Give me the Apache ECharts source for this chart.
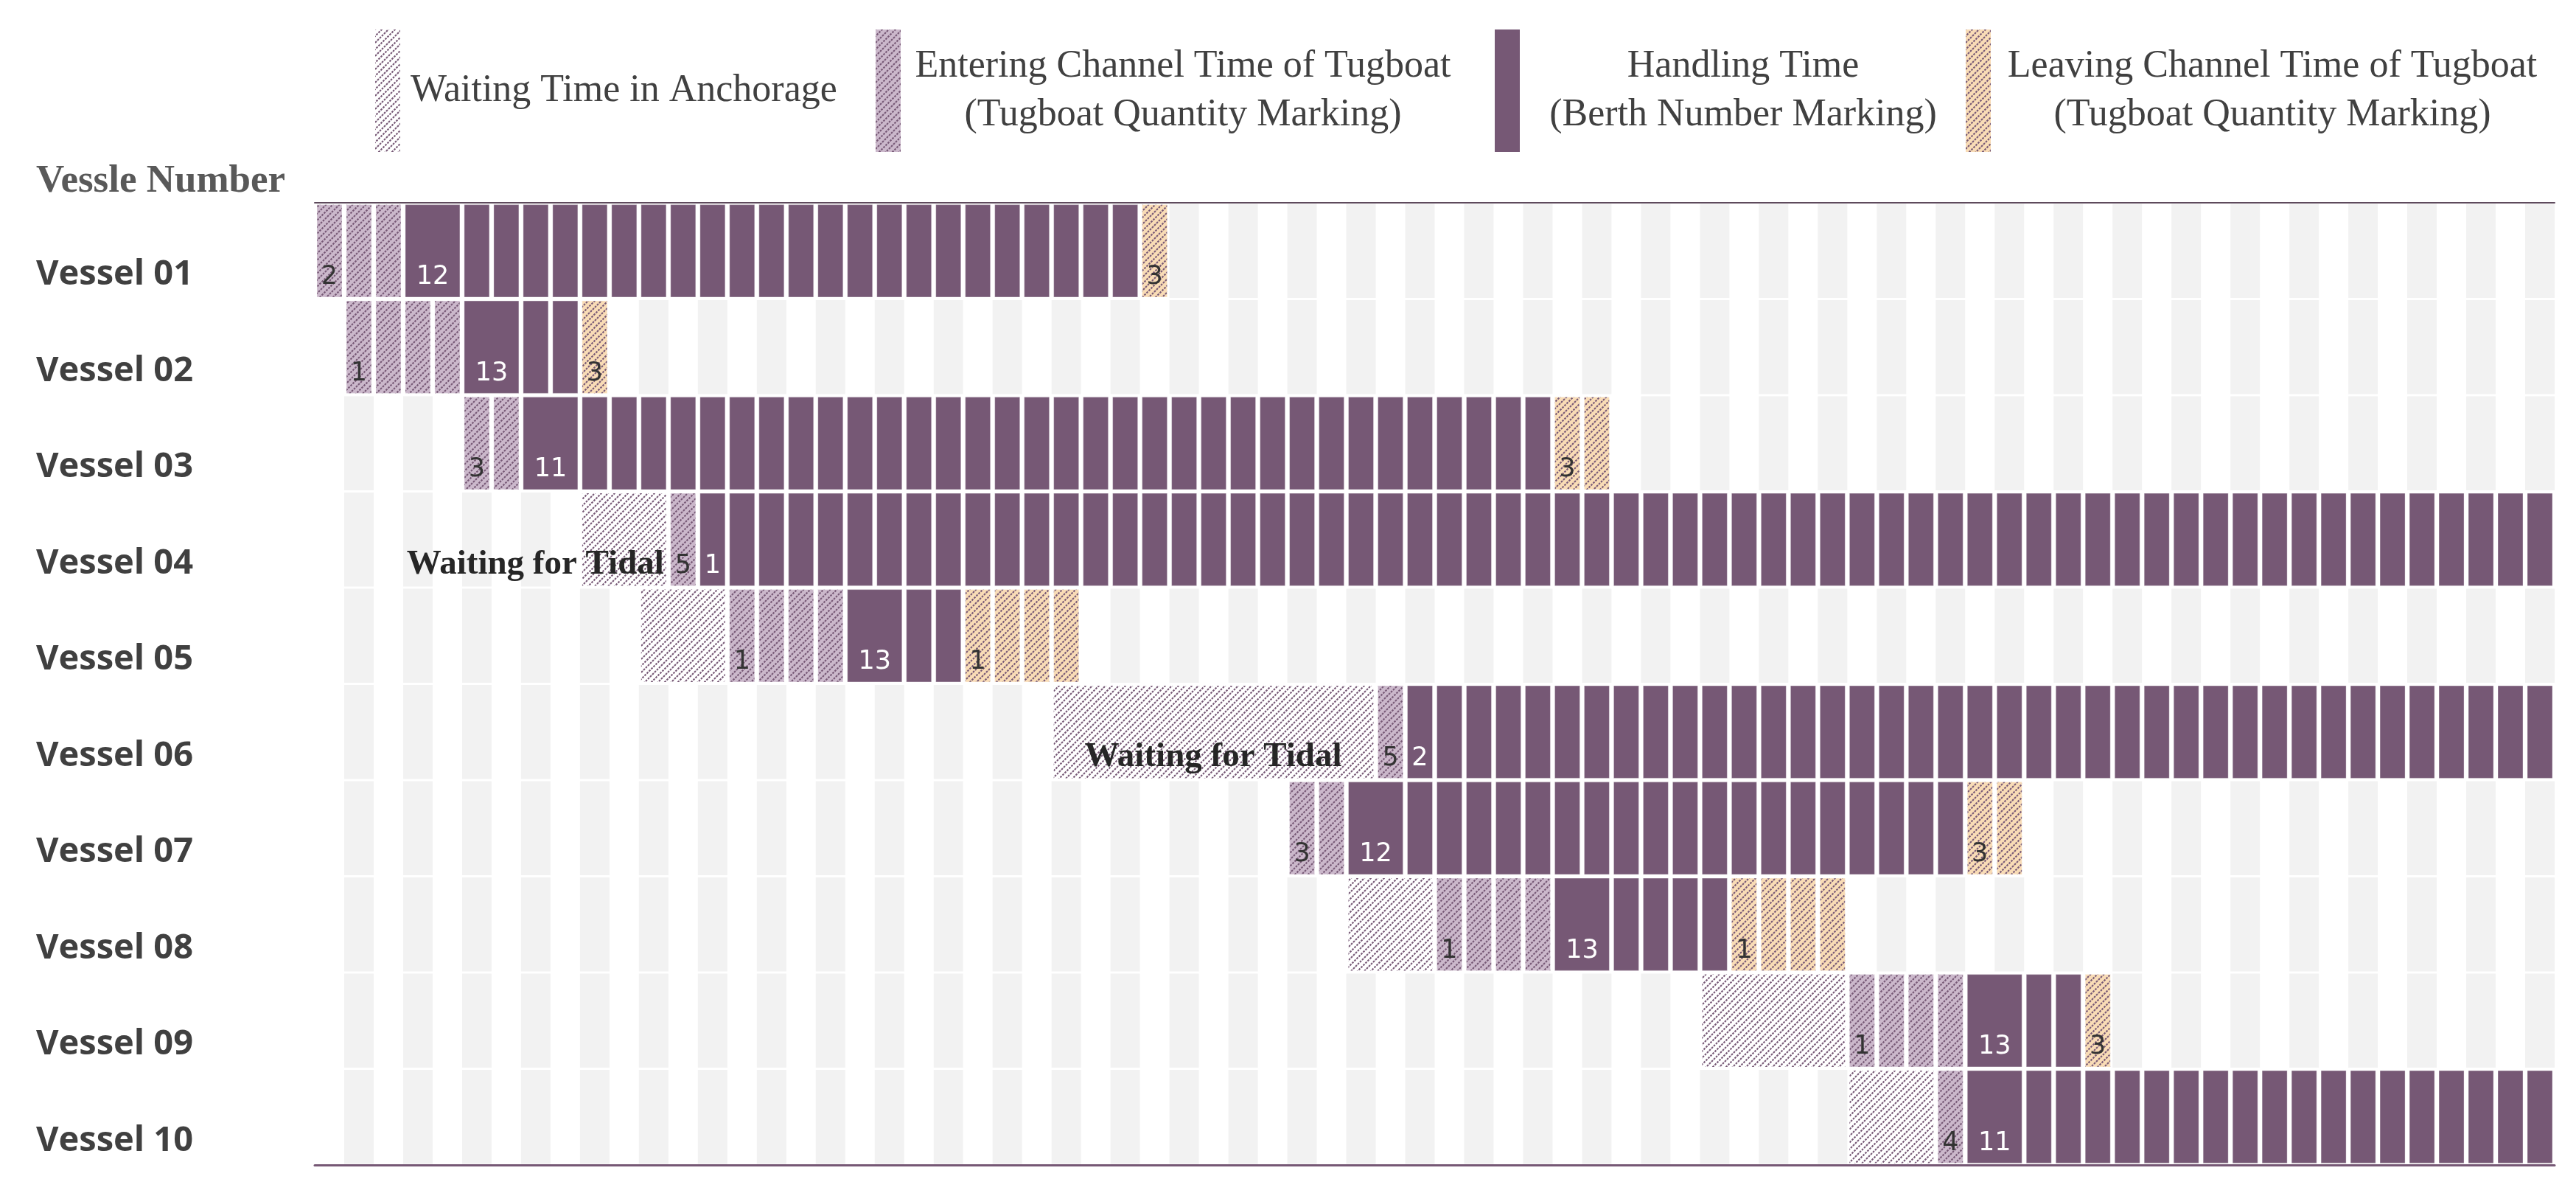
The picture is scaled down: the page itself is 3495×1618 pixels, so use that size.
<!DOCTYPE html>
<html>
<head>
<meta charset="utf-8">
<script src="https://cdn.jsdelivr.net/npm/echarts@6/dist/echarts.min.js"></script>
<style>
html,body{margin:0;padding:0;background:#fff;}
#chart{width:3495px;height:1618px;}
</style>
</head>
<body>
<div id="chart"></div>
<script>
// ---------------- data (time unit = one column slot) ----------------
const vessels = ['Vessel 01','Vessel 02','Vessel 03','Vessel 04','Vessel 05',
                 'Vessel 06','Vessel 07','Vessel 08','Vessel 09','Vessel 10'];
const startSlot     = [0, 1, 5, 9, 11, 25, 33, 35, 47, 52];
const waitingTime   = [0, 0, 0, 3, 3, 11, 0, 3, 5, 3];
const enteringTime  = [3, 4, 2, 1, 4, 1, 2, 4, 4, 1];
const handlingTime  = [25, 4, 35, 63, 4, 39, 21, 6, 4, 20];
const leavingTime   = [1, 1, 2, 0, 4, 0, 2, 4, 1, 0];
const tugboatsIn    = [2, 1, 3, 5, 1, 5, 3, 1, 1, 4];
const berthNumber   = [12, 13, 11, 1, 13, 2, 12, 13, 13, 11];
const tugboatsOut   = [3, 3, 3, '', 1, '', 3, 1, 3, ''];
const berthCellSpan = [2, 2, 2, 1, 2, 1, 2, 2, 2, 2];
const tidalNotes    = [['Vessel 04', 12, 'Waiting for Tidal'], ['Vessel 06', 35, 'Waiting for Tidal']];
const totalSlots    = 76;
const legendNames = [
  'Waiting Time in Anchorage',
  'Entering Channel Time of Tugboat\n(Tugboat Quantity Marking)',
  'Handling Time\n(Berth Number Marking)',
  'Leaving Channel Time of Tugboat\n(Tugboat Quantity Marking)'
];

// derived phase starts
const waitStart   = startSlot.map((s) => s);
const enterStart  = startSlot.map((s, i) => s + waitingTime[i]);
const handleStart = enterStart.map((s, i) => s + enteringTime[i]);
const leaveStart  = handleStart.map((s, i) => s + handlingTime[i]);
const endSlot     = leaveStart.map((s, i) => s + leavingTime[i]);

// ---------------- styles ----------------
const PURPLE = '#765875';
const LIGHT_PURPLE = '#cbb8cb';
const LIGHT_ORANGE = '#f9dcb6';
const GRAY = '#f2f2f2';

// dotted upward-diagonal hatch (45deg lines, 9px apart horizontally)
function hatch(bg) {
  const T = 18;
  const c = document.createElement('canvas');
  c.width = T; c.height = T;
  const g = c.getContext('2d');
  if (bg) { g.fillStyle = bg; g.fillRect(0, 0, T, T); }
  g.strokeStyle = PURPLE;
  g.lineWidth = 2.1;
  g.lineCap = 'butt';
  g.setLineDash([2.7, 12.7279 / 3 - 2.7]);
  for (let k = 0; k <= 36; k += 9) {
    g.beginPath();
    g.lineDashOffset = 0;
    g.moveTo((k - 36) / 2, (k + 36) / 2);   // x - y = -36
    g.lineTo((k + 36) / 2, (k - 36) / 2);   // x - y = 36
    g.stroke();
  }
  return { image: c, repeat: 'repeat' };
}
const waitFill = hatch('#ffffff');
const enterFill = hatch(LIGHT_PURPLE);
const leaveFill = hatch(LIGHT_ORANGE);

const GAP = 0.15;       // fraction of a slot left blank between cells
const CELL_H = 0.96;    // fraction of a row
const LABEL_DY = 0.275; // label offset (fraction of a row) below the row centre

function makeRender(fill, labels, labelColor, spans, continuous) {
  return function (params, api) {
    const i = params.dataIndex;
    const row = api.value(0), start = api.value(1), len = api.value(2);
    if (!len) return null;
    const p = api.coord([start, row]);
    const sz = api.size([1, 1]);
    const w = sz[0], rh = sz[1];
    const h = rh * CELL_H, yc = p[1];
    const gap = w * GAP;
    const children = [];
    let firstSpan = 1;
    if (continuous) {
      children.push({ type: 'rect', shape: { x: p[0] + gap / 2, y: yc - h / 2, width: len * w - gap, height: h },
        style: { fill: fill } });
      firstSpan = len;
    } else {
      let u = 0;
      while (u < len) {
        const s = (u === 0 && spans) ? Math.min(spans[i], len) : 1;
        if (u === 0) firstSpan = s;
        children.push({ type: 'rect', shape: { x: p[0] + u * w + gap / 2, y: yc - h / 2, width: s * w - gap, height: h },
          style: { fill: fill, stroke: 'rgba(255,255,255,0.35)', lineWidth: 1 } });
        u += s;
      }
    }
    if (labels && labels[i] !== '' && labels[i] != null) {
      children.push({ type: 'text', z2: 10, style: {
        text: String(labels[i]), x: p[0] + firstSpan * w / 2, y: yc + rh * LABEL_DY,
        align: 'center', verticalAlign: 'middle', font: '35px "DejaVu Sans"', fill: labelColor } });
    }
    return { type: 'group', children: children };
  };
}

function phaseData(starts, lens) {
  return vessels.map(function (v, i) { return [i, starts[i], lens[i]]; });
}

// background stripes (odd slots not occupied by the vessel)
const bgData = vessels.map(function (v, i) { return [i, startSlot[i], endSlot[i]]; });
function renderBg(params, api) {
  const row = api.value(0), s0 = api.value(1), s1 = api.value(2);
  const sz = api.size([1, 1]);
  const w = sz[0], rh = sz[1];
  const children = [];
  for (let k = 1; k < totalSlots; k += 2) {
    if (k >= s0 && k < s1) continue;
    const p = api.coord([k, row]);
    children.push({ type: 'rect', shape: { x: p[0], y: p[1] - rh / 2 + 1.5, width: w, height: rh - 3 },
      style: { fill: GRAY } });
  }
  return { type: 'group', children: children };
}

const noteData = tidalNotes.map(function (n) { return [vessels.indexOf(n[0]), n[1]]; });
function renderNote(params, api) {
  const n = tidalNotes[params.dataIndex];
  const p = api.coord([api.value(1), api.value(0)]);
  const sz = api.size([1, 1]);
  return { type: 'text', style: {
    text: n[2], x: p[0] - sz[0] * 0.15, y: p[1] + sz[1] * 0.265,
    align: 'right', verticalAlign: 'middle',
    font: 'bold 47px "Liberation Serif"', fill: '#262626' } };
}

// ---------------- legends ----------------
const serif = '"Liberation Serif", "Times New Roman", serif';
function mkLegend(idx, left, fill, blockWidth, padLeft) {
  const lines = legendNames[idx].split('\n');
  const rich = { a: { fontFamily: serif, fontSize: 52, lineHeight: 66, color: '#404040',
    align: 'center', padding: [0, 0, 0, padLeft || 0] } };
  if (blockWidth) rich.a.width = blockWidth;
  return {
    show: true, orient: 'horizontal', left: left, top: 40, padding: 0,
    itemWidth: 34, itemHeight: 166, selectedMode: false,
    data: [{ name: legendNames[idx], icon: 'rect', itemStyle: { color: fill, borderWidth: 0 } }],
    formatter: function () { return lines.map(function (l) { return '{a|' + l + '}'; }).join('\n'); },
    textStyle: { rich: rich }
  };
}

const option = {
  backgroundColor: '#ffffff',
  animation: false,
  title: {
    text: 'Vessle Number', left: 49, top: 220, padding: 0,
    textStyle: { fontFamily: serif, fontWeight: 'bold', fontSize: 53, color: '#595959' }
  },
  legend: [
    mkLegend(0, 509, waitFill, null, 9),
    mkLegend(1, 1188, enterFill, 756, 0),
    mkLegend(2, 2028, PURPLE, 596, 0),
    mkLegend(3, 2667, leaveFill, 754, 0)
  ],
  grid: { left: 427, right: 29, top: 275, bottom: 38, containLabel: false, outerBoundsMode: 'none' },
  xAxis: [
    { type: 'value', min: 0, max: totalSlots, position: 'top',
      axisLine: { show: true, onZero: false, lineStyle: { color: '#5e4a5c', width: 2 } },
      axisTick: { show: false }, axisLabel: { show: false }, splitLine: { show: false } },
    { type: 'value', min: 0, max: totalSlots, position: 'bottom',
      axisLine: { show: true, onZero: false, lineStyle: { color: PURPLE, width: 3 } },
      axisTick: { show: false }, axisLabel: { show: false }, splitLine: { show: false } }
  ],
  yAxis: {
    type: 'category', data: vessels, inverse: true,
    axisLine: { show: false }, axisTick: { show: false }, splitLine: { show: false },
    axisLabel: { margin: 378, align: 'left', verticalAlign: 'top', lineHeight: 65,
      fontFamily: '"Open Sans", "Noto Sans", sans-serif', fontWeight: 'bold', fontSize: 47, color: '#404040' }
  },
  series: [
    { type: 'custom', name: 'bg', z: 1, silent: true, encode: { x: [1, 2], y: 0 },
      data: bgData, renderItem: renderBg },
    { type: 'custom', name: legendNames[0], z: 2, encode: { x: 1, y: 0 }, itemStyle: { color: waitFill },
      data: phaseData(waitStart, waitingTime), renderItem: makeRender(waitFill, null, '#333', null, true) },
    { type: 'custom', name: legendNames[1], z: 2, encode: { x: 1, y: 0 }, itemStyle: { color: enterFill },
      data: phaseData(enterStart, enteringTime), renderItem: makeRender(enterFill, tugboatsIn, '#333333', null, false) },
    { type: 'custom', name: legendNames[2], z: 2, encode: { x: 1, y: 0 }, itemStyle: { color: PURPLE },
      data: phaseData(handleStart, handlingTime), renderItem: makeRender(PURPLE, berthNumber, '#ffffff', berthCellSpan, false) },
    { type: 'custom', name: legendNames[3], z: 2, encode: { x: 1, y: 0 }, itemStyle: { color: leaveFill },
      data: phaseData(leaveStart, leavingTime), renderItem: makeRender(leaveFill, tugboatsOut, '#333333', null, false) },
    { type: 'custom', name: 'notes', z: 5, silent: true, encode: { x: 1, y: 0 },
      data: noteData, renderItem: renderNote }
  ]
};

const chart = echarts.init(document.getElementById('chart'), null, { renderer: 'canvas' });
chart.setOption(option);
</script>
</body>
</html>
